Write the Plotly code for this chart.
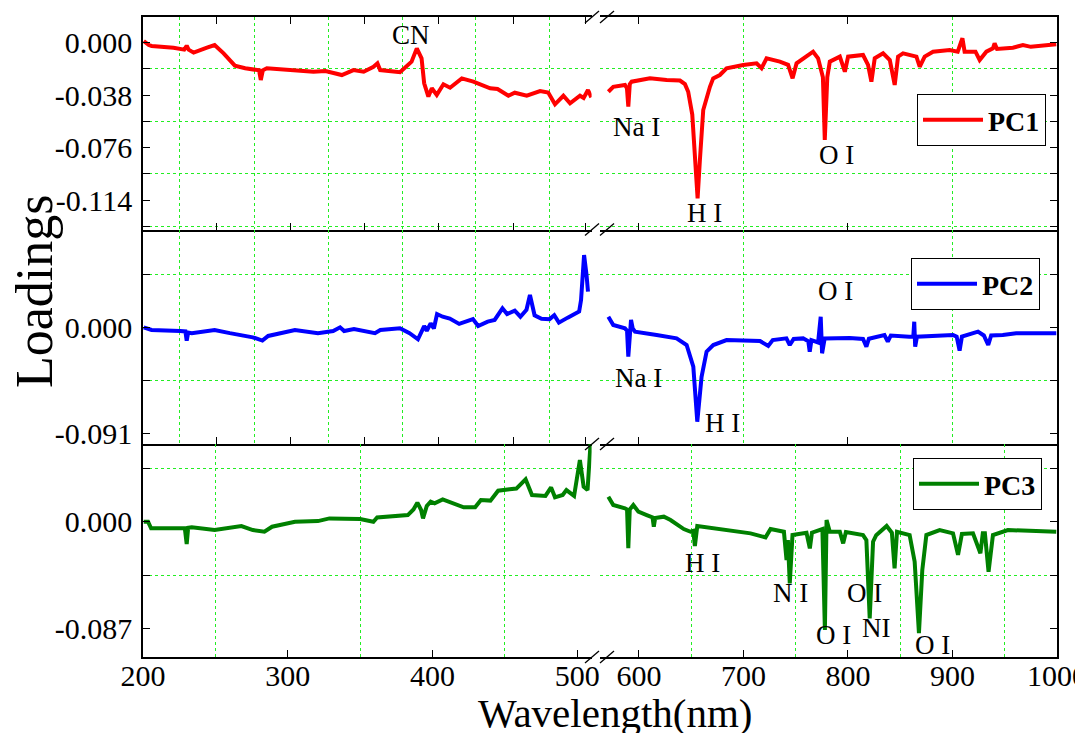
import plotly.graph_objects as go

# ---------------- data ----------------
pc1_left_wl = [200.5, 204, 206, 221.1, 228.5, 230.2, 231.5, 235, 244.2, 249.5, 255.7, 263.5, 270.6, 276.4,
               280.2, 281.4, 282.8, 285.6, 301.7, 317.8, 326.1, 337.4, 345.4, 352.5, 359.3, 362, 363.9, 377.6,
               385.6, 389.2, 392.5, 394.3, 397.2, 399.6, 403, 407.6, 412.2, 420.3, 428.3, 439.9, 445, 452.5, 456.9,
               465.2, 474.4, 480, 484.7, 490.5, 495.1, 502, 504.5, 507.5, 509.8]
pc1_left_val = [0.0012, -0.0017, -0.0024, -0.0036, -0.0050, -0.0022, -0.0050, -0.0072, -0.0036, -0.0017, -0.0077,
                -0.0166, -0.0185, -0.0198, -0.0200, -0.0270, -0.0200, -0.0185, -0.0198, -0.0210, -0.0205,
                -0.0234, -0.0198, -0.0210, -0.0174, -0.0149, -0.0198, -0.0214, -0.0137, -0.0041, -0.0113,
                -0.0294, -0.0390, -0.0330, -0.0378, -0.0301, -0.0326, -0.0258, -0.0282, -0.0330, -0.0335,
                -0.0384, -0.0362, -0.0384, -0.0350, -0.0360, -0.0446, -0.0384, -0.0439, -0.0384, -0.0400,
                -0.0342, -0.0396]

pc1_right_wl = [570.7, 575.4, 586.6, 588.5, 589.8, 591.2, 593, 610.5, 626.5, 639.2, 644, 647.1, 651, 653.5,
                656.1, 658.3, 661.5, 667.9, 671, 677.4, 683.8, 699.7, 712.5, 717.3, 722.1, 734.8, 742.7, 747,
                750.8, 766.6, 771.4, 776, 777.8, 780.2, 782.6, 792.2, 797, 800.1, 814.4, 819.2, 822.4,
                825.6, 833.6, 840, 844.7, 847.9, 852.7, 865.5, 868.6, 873.4, 881.4, 897.3, 905, 909.5,
                911.6, 922, 926, 932.4, 938.7, 940.3, 942.6, 957.8, 967.4, 975, 999.3]
pc1_right_val = [-0.0355, -0.0319, -0.0306, -0.0330, -0.0463, -0.0300, -0.0282, -0.0258, -0.0270, -0.0274,
                 -0.0300, -0.0355, -0.0520, -0.0777, -0.1127, -0.0849, -0.0487, -0.0319, -0.0258, -0.0234,
                 -0.0185, -0.0161, -0.0149, -0.0185, -0.0113, -0.0137, -0.0160, -0.0258, -0.0149, -0.0065,
                 -0.0113, -0.0250, -0.0704, -0.0250, -0.0137, -0.0101, -0.0210, -0.0101, -0.0089, -0.0161,
                 -0.0282, -0.0113, -0.0077, -0.0125, -0.0306, -0.0101, -0.0077, -0.0101, -0.0174, -0.0101,
                 -0.0065, -0.0053, -0.0065, 0.0032, -0.0065, -0.0065, -0.0125, -0.0065, -0.0041, -0.0004,
                 -0.0045, -0.0036, -0.0017, -0.0030, -0.0012]

pc2_left_wl = [200.5, 205.9, 225.7, 229.3, 230.2, 231.2, 233.7, 249.5, 260, 275.9, 282.5, 286.5, 305, 320.9,
               331.4, 336.2, 339, 345.8, 360.3, 364, 377.6, 384.2, 390, 392, 394.3, 396.1, 398.8, 401, 403.2,
               407.1, 412, 418.5, 425.1, 428, 431.6, 438.2, 443, 448.4, 451.6, 456.9, 460.8, 465, 467.4,
               470.6, 475.4, 481, 484.2, 487.4, 493.5, 501.4, 502.7, 504.8, 506.5, 507.5]
pc2_left_val = [0.0, -0.0023, -0.0032, -0.0035, -0.0115, -0.0045, -0.0050, -0.0023, -0.0050, -0.0086,
                -0.0114, -0.0074, -0.0023, -0.0050, -0.0032, 0.0, -0.0032, -0.0015, -0.0050, -0.0023,
                -0.0008, -0.0050, -0.0103, -0.0050, 0.0011, -0.0030, 0.0034, -0.0010, 0.0114, 0.0091,
                0.0075, 0.0029, 0.0063, 0.0070, 0.0011, 0.0049, 0.0063, 0.0163, 0.0114, 0.0143, 0.0091,
                0.0150, 0.0277, 0.0103, 0.0074, 0.0070, 0.0103, 0.0040, 0.0083, 0.0135, 0.0234, 0.0620,
                0.0450, 0.0306]

pc2_right_wl = [570.7, 575.4, 586.6, 588.6, 589.8, 591, 592.4, 594, 596.2, 616.9, 636, 645.6, 652, 655.8,
                659.9, 664.7, 671.1, 683.8, 699.8, 715.8, 723.7, 728, 741.1, 744.3, 748, 757.1, 762, 763.4,
                765, 771.4, 773.9, 775.2, 777.7, 801.6, 814.4, 817.6, 820, 834.9, 838.1, 841, 858.6, 862.5,
                863.4, 864.3, 866, 900.5, 904, 906.8, 909, 924.4, 930, 934.2, 937, 948.1, 960.9, 999.3]
pc2_right_val = [0.0091, 0.0020, -0.0009, -0.0030, -0.0252, -0.0040, 0.0063, -0.0010, -0.0037, -0.0066,
                 -0.0095, -0.0152, -0.0338, -0.0810, -0.0424, -0.0209, -0.0152, -0.0109, -0.0112, -0.0118,
                 -0.0160, -0.0110, -0.0095, -0.0152, -0.0100, -0.0095, -0.0120, -0.0209, -0.0110, -0.0130,
                 0.0091, -0.0223, -0.0095, -0.0092, -0.0100, -0.0166, -0.0098, -0.0066, -0.0123, -0.0070,
                 -0.0081, -0.0081, 0.0048, -0.0166, -0.0080, -0.0066, -0.0080, -0.0200, -0.0080, -0.0037,
                 -0.0070, -0.0152, -0.0070, -0.0066, -0.0052, -0.0052]

pc3_left_wl = [200.5, 203.5, 205.6, 228.9, 230.2, 231.2, 233.7, 249.5, 268, 275.9, 283.9, 289.2, 305, 320.9,
               328.8, 350, 359.2, 361.8, 383, 386.9, 389.6, 392.2, 393.5, 396.1, 398.8, 401.5, 407.1, 415,
               421.6, 429.5, 433.5, 440.1, 445.4, 453.3, 458, 464.4, 468.8, 478.1, 482, 484.7, 490, 492.6,
               497.9, 501.9, 504.5, 507.2, 509.5]
pc3_left_val = [0.0, 0.0, -0.0054, -0.0054, -0.0182, -0.0050, -0.0046, -0.0068, -0.0035, -0.0068, -0.0082,
                -0.0041, 0.0, 0.0005, 0.0027, 0.0022, 0.0, 0.0035, 0.0054, 0.0100, 0.0155, 0.0095, 0.0027,
                0.0128, 0.0163, 0.0150, 0.0182, 0.0144, 0.0117, 0.0117, 0.0177, 0.0172, 0.0253, 0.0264,
                0.0270, 0.0346, 0.0218, 0.0210, 0.0280, 0.0199, 0.0218, 0.0258, 0.0210, 0.0503, 0.0286,
                0.0258, 0.0680]

pc3_right_wl = [570.7, 575.4, 586.6, 588.6, 589.8, 591.2, 594.6, 599.4, 607.4, 613, 614.2, 615.5, 623.8, 630.2,
                642.9, 649.3, 652, 653.5, 655.8, 671.7, 690.8, 706.8, 721.1, 725.9, 738.7, 741.2, 742.5,
                744.3, 746.9, 760.3, 763.5, 765.5, 775.5, 777.9, 779.5, 782.6, 792.2, 795.4, 798, 814.4,
                817.6, 820.8, 824, 827, 837, 842, 844.6, 846.9, 859, 863.8, 867.9, 871.1, 875, 887.7, 900.5,
                905.3, 909, 919.6, 926.7, 929, 931, 934.5, 938.7, 953, 999.3]
pc3_right_val = [0.0204, 0.0136, 0.0109, 0.0100, -0.0217, 0.0100, 0.0136, 0.0082, 0.0054, 0.0035, -0.0041,
                 0.0030, 0.0041, 0.0014, -0.0060, -0.0082, -0.0075, -0.0198, -0.0035, -0.0054, -0.0082,
                 -0.0095, -0.0128, -0.0060, -0.0082, -0.0313, -0.0150, -0.0503, -0.0109, -0.0090, -0.0218,
                 -0.0090, -0.0060, -0.0884, 0.0014, -0.0082, -0.0082, -0.0177, -0.0085, -0.0109, -0.0150,
                 -0.0789, -0.0163, -0.0110, -0.0035, -0.0090, -0.0380, -0.0082, -0.0109, -0.0326, -0.0910,
                 -0.0395, -0.0109, -0.0068, -0.0095, -0.0270, -0.0100, -0.0095, -0.0258, -0.0095, -0.0095,
                 -0.0408, -0.0109, -0.0068, -0.0082]

series_names = ["PC1", "PC2", "PC3"]
series_colors = ["#ff0000", "#0000ff", "#008000"]

# axis ticks
x_left_ticks_bottom = [200, 300, 400, 500]
x_left_grid_bottom = [250, 350, 450]
x_right_ticks_bottom = [600, 700, 800, 900, 1000]
x_right_grid_bottom = [650, 750, 850, 950]
x_left_ticks_upper = [251, 302, 353, 404, 456, 506]
x_left_grid_upper = [225, 277, 328, 379, 430, 481]
x_right_ticks_upper = [600, 800, 1000]
x_right_grid_upper = [700, 900]

y1_ticks = [0.0, -0.038, -0.076, -0.114]
y1_labels = ["0.000", "-0.038", "-0.076", "-0.114"]
y1_grid = [-0.019, -0.057, -0.095, -0.133]
y2_ticks = [0.0, -0.091]
y2_labels = ["0.000", "-0.091"]
y2_grid = [0.0455, -0.0455]
y3_ticks = [0.0, -0.087]
y3_labels = ["0.000", "-0.087"]
y3_grid = [0.0435, -0.0435]

y_ranges = [[-0.1352, 0.0186], [-0.1001, 0.0839], [-0.1104, 0.0634]]
x_left_range = [200, 510]
x_right_range = [563, 1000]

# annotations: (text, panel, side, wavelength, value)
labels = [
    ("CN", 0, "L", 385.3, 0.0056),
    ("Na I", 0, "R", 598.1, -0.061),
    ("H I", 0, "R", 663.1, -0.1233),
    ("O I", 0, "R", 789.3, -0.0813),
    ("O I", 1, "R", 788.3, 0.0311),
    ("Na I", 1, "R", 600.0, -0.0435),
    ("H I", 1, "R", 680.3, -0.0821),
    ("H I", 2, "R", 661.2, -0.0337),
    ("N I", 2, "R", 745.3, -0.0582),
    ("O I", 2, "R", 786.4, -0.0925),
    ("O I", 2, "R", 816.1, -0.0582),
    ("NI", 2, "R", 827.5, -0.0867),
    ("O I", 2, "R", 881.1, -0.1007),
]

# ---------------- layout geometry ----------------
FONT = "Liberation Serif"
W, H = 1075, 733
ML, MR, MT, MB = 143, 18, 17, 76
PW, PH = W - ML - MR, H - MT - MB


def xp(px):
    return (px - ML) / PW


def yp(py):
    return (H - MB - py) / PH


x_dom_left = [0, xp(591.6)]
x_dom_right = [xp(600.3), 1]
y_doms = [[yp(229.5), 1], [yp(444), yp(229.5)], [0, yp(444)]]

fig = go.Figure()

data = [
    (pc1_left_wl, pc1_left_val, pc1_right_wl, pc1_right_val),
    (pc2_left_wl, pc2_left_val, pc2_right_wl, pc2_right_val),
    (pc3_left_wl, pc3_left_val, pc3_right_wl, pc3_right_val),
]
legend_ids = ["legend", "legend2", "legend3"]

for i, (lw, lv, rw, rv) in enumerate(data):
    xl = "x" if i == 0 else f"x{2*i+1}"
    yl = "y" if i == 0 else f"y{2*i+1}"
    xr = f"x{2*i+2}"
    yr = f"y{2*i+2}"
    fig.add_trace(go.Scatter(x=lw, y=lv, xaxis=xl, yaxis=yl, mode="lines",
                             line=dict(color=series_colors[i], width=4),
                             name=series_names[i], showlegend=False, legend=legend_ids[i]))
    fig.add_trace(go.Scatter(x=rw, y=rv, xaxis=xr, yaxis=yr, mode="lines",
                             line=dict(color=series_colors[i], width=4),
                             name=series_names[i], showlegend=True, legend=legend_ids[i]))

GRID = dict(showgrid=True, gridcolor="#22ee22", griddash="dot", gridwidth=1)
tickfont = dict(family=FONT, size=30, color="black")

layout = dict(
    width=W, height=H,
    margin=dict(l=ML, r=MR, t=MT, b=MB, autoexpand=False),
    paper_bgcolor="white", plot_bgcolor="white",
    showlegend=True,
)

x_specs = [
    (x_left_ticks_upper, x_left_grid_upper, x_right_ticks_upper, x_right_grid_upper, False),
    (x_left_ticks_upper, x_left_grid_upper, x_right_ticks_upper, x_right_grid_upper, False),
    (x_left_ticks_bottom, x_left_grid_bottom, x_right_ticks_bottom, x_right_grid_bottom, True),
]
y_specs = [(y1_ticks, y1_labels, y1_grid), (y2_ticks, y2_labels, y2_grid), (y3_ticks, y3_labels, y3_grid)]

for i in range(3):
    lt, lg, rt, rg, show = x_specs[i]
    yt, ylab, yg = y_specs[i]
    nl = 2 * i + 1
    nr = 2 * i + 2
    kl = "xaxis" if nl == 1 else f"xaxis{nl}"
    kr = f"xaxis{nr}"
    ykl = "yaxis" if nl == 1 else f"yaxis{nl}"
    ykr = f"yaxis{nr}"
    mirror = "ticks" if i == 0 else False
    common_x = dict(showline=True, linecolor="black", linewidth=1.5, mirror=mirror,
                    ticks="inside", ticklen=7, tickwidth=1.3, tickcolor="black",
                    showgrid=False, zeroline=False, tickmode="array", automargin=False,
                    showticklabels=show, tickfont=tickfont, ticklabelstandoff=-9,
                    ticklabeloverflow="allow")
    layout[kl] = dict(common_x, domain=x_dom_left, range=x_left_range, anchor="y" if nl == 1 else f"y{nl}",
                      tickvals=lt, ticktext=[str(v) for v in lt],
                      minor=dict(tickmode="array", tickvals=lg, ticks="", **GRID))
    layout[kr] = dict(common_x, domain=x_dom_right, range=x_right_range, anchor=f"y{nr}",
                      tickvals=rt, ticktext=[str(v) for v in rt],
                      minor=dict(tickmode="array", tickvals=rg, ticks="", **GRID))
    common_y = dict(showline=True, linecolor="black", linewidth=1.5, mirror=False,
                    ticks="inside", ticklen=7, tickwidth=1.3, tickcolor="black",
                    showgrid=False, zeroline=False, tickmode="array", tickvals=yt, automargin=False,
                    domain=y_doms[i], range=y_ranges[i])
    layout[ykl] = dict(common_y, anchor="x" if nl == 1 else f"x{nl}", side="left",
                       ticktext=ylab, showticklabels=True, tickfont=tickfont, ticklabelstandoff=3,
                       minor=dict(tickmode="array", tickvals=yg, ticks="inside", ticklen=7,
                                  tickcolor="black", tickwidth=1.3, **GRID))
    layout[ykr] = dict(common_y, anchor=f"x{nr}", side="right", showticklabels=False,
                       minor=dict(tickmode="array", tickvals=yg, ticks="inside", ticklen=7,
                                  tickcolor="black", tickwidth=1.3, **GRID))

# legends (one box per panel)
legend_pos = [(xp(1046), yp(94)), (xp(1040), yp(258)), (xp(1042), yp(458))]
for i, lid in enumerate(legend_ids):
    layout[lid] = dict(x=legend_pos[i][0], y=legend_pos[i][1], xanchor="right", yanchor="top",
                       bgcolor="white", bordercolor="black", borderwidth=1,
                       font=dict(family=FONT, size=28, color="black", weight="bold"),
                       itemwidth=60, tracegroupgap=0)

fig.update_layout(**layout)

# peak labels
for text, panel, side, wl, val in labels:
    if side == "L":
        xr = "x" if panel == 0 else f"x{2*panel+1}"
        yr = "y" if panel == 0 else f"y{2*panel+1}"
    else:
        xr = f"x{2*panel+2}"
        yr = f"y{2*panel+2}"
    fig.add_annotation(x=wl, y=val, xref=xr, yref=yr, text=text, showarrow=False,
                       font=dict(family=FONT, size=27, color="black"),
                       xanchor="center", yanchor="middle")

# axis titles
fig.add_annotation(x=xp(615), y=yp(713), xref="paper", yref="paper", text="Wavelength(nm)",
                   showarrow=False, font=dict(family=FONT, size=41, color="black"),
                   xanchor="center", yanchor="middle")
fig.add_annotation(x=xp(34), y=yp(291), xref="paper", yref="paper", text="Loadings",
                   showarrow=False, textangle=-90, font=dict(family=FONT, size=52, color="black"),
                   xanchor="center", yanchor="middle")

# axis-break marks
for edge in [MT, 229.5, 444, H - MB]:
    for x0 in [585, 600]:
        fig.add_shape(type="line", xref="paper", yref="paper",
                      x0=xp(x0), y0=yp(edge + 6), x1=xp(x0 + 14), y1=yp(edge - 6),
                      line=dict(color="black", width=1.3))

fig.write_html("out.html", config={"displayModeBar": False},
               post_script="document.body.style.margin='0';document.body.style.padding='0';")
